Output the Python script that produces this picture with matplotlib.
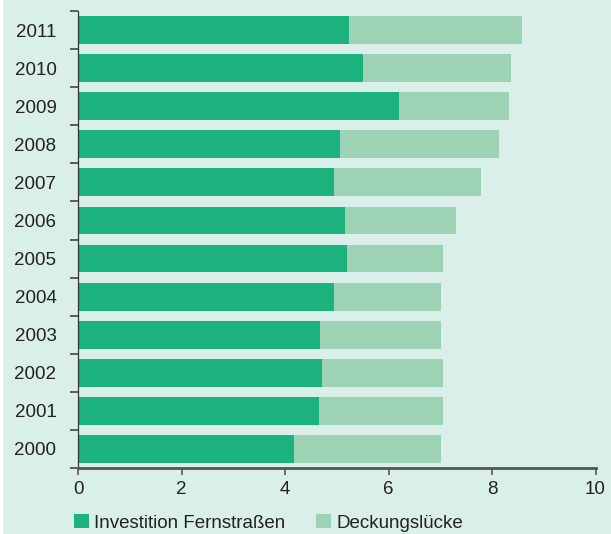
import matplotlib.pyplot as plt
import numpy as np

plt.rcParams['font.family'] = ['Liberation Sans', 'DejaVu Sans']

# Werte (Mrd. Euro)
jahre = ['2000', '2001', '2002', '2003', '2004', '2005',
         '2006', '2007', '2008', '2009', '2010', '2011']
investition = [4.17, 4.66, 4.71, 4.68, 4.95, 5.20, 5.16, 4.95, 5.07, 6.20, 5.51, 5.24]
gesamt = [7.02, 7.06, 7.06, 7.02, 7.02, 7.06, 7.30, 7.79, 8.14, 8.33, 8.37, 8.58]
luecke = [g - i for g, i in zip(gesamt, investition)]

bg = '#daeeea'
dunkel = '#1bb27d'
hell = '#9dd2b4'

fig = plt.figure(figsize=(6.11, 5.34), dpi=100, facecolor=bg)
ax = fig.add_axes([78 / 611, 66 / 534, 517.5 / 611, 457 / 534])
ax.set_facecolor(bg)

y = np.arange(len(jahre))
ax.barh(y, investition, height=0.73, color=dunkel, label='Investition Fernstraßen')
ax.barh(y, luecke, left=investition, height=0.73, color=hell, label='Deckungslücke')

ax.set_xlim(0, 10)
ax.set_ylim(-0.5, len(jahre) - 0.5)
ax.set_xticks(range(0, 11, 2))
ax.set_yticks(y)
ax.set_yticklabels(jahre)
ax.set_yticks(np.arange(-0.5, len(jahre), 1), minor=True)

for s in ['top', 'right']:
    ax.spines[s].set_visible(False)
ax.spines['left'].set_color('#333333')
ax.spines['left'].set_linewidth(0.9)
ax.spines['bottom'].set_color('#555555')
ax.spines['bottom'].set_linewidth(2)

ax.tick_params(axis='y', which='major', length=0, pad=15.5, labelsize=13.5, labelcolor='#222222')
ax.tick_params(axis='y', which='minor', length=6, width=1.2, color='#444444')
ax.tick_params(axis='x', length=5, width=1.2, color='#555555', pad=4,
               labelsize=13.5, labelcolor='#222222')

fig.legend(loc='lower left', bbox_to_anchor=(0.093, -0.027), ncol=2, frameon=False,
           fontsize=13.5, handlelength=0.8, handleheight=0.8, handletextpad=0.3,
           columnspacing=1.6, labelcolor='#222222')

# weißer Rand links
fig.patches.append(plt.Rectangle((0, 0), 2 / 611, 1, transform=fig.transFigure,
                                 color='white', zorder=5))

fig.savefig('out.png', dpi=100, facecolor=bg)
